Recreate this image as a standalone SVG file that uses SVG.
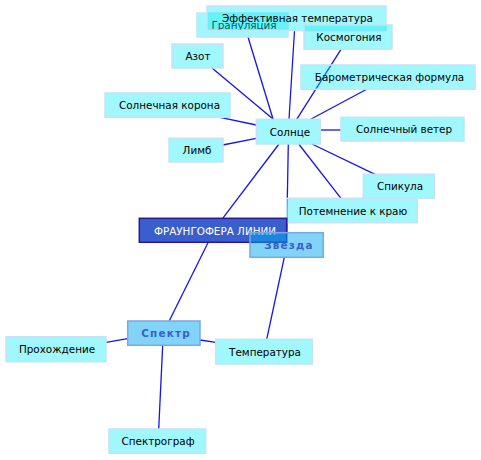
<svg xmlns="http://www.w3.org/2000/svg" width="481" height="460" viewBox="0 0 481 460">
<style>
.e{stroke:#1414f0;stroke-width:1.3;fill:none}
.n rect{fill:#00ecf8;fill-opacity:0.37;stroke:#c4e2f8;stroke-width:1.5}
.n text{font-family:"DejaVu Sans",sans-serif;font-size:10.4px;fill:#000;text-anchor:middle}
.s rect{fill:#04a9f1;fill-opacity:0.5;stroke:#7aa8e0;stroke-width:1.5}
.s text{font-family:"DejaVu Sans",sans-serif;font-size:10.4px;font-weight:bold;letter-spacing:1.2px;fill:#3a5fcd;text-anchor:middle}
.m rect{fill:#3a5fcd;stroke:#2a169c;stroke-width:1.5}
.m text{font-family:"DejaVu Sans",sans-serif;font-size:10.4px;fill:#fff;text-anchor:middle}
</style>
<rect width="481" height="460" fill="#fff"/>
<g id="connectors">
<line class="e" x1="248" y1="37" x2="273" y2="119"/>
<line class="e" x1="294.5" y1="31" x2="289" y2="119"/>
<line class="e" x1="341" y1="49.3" x2="296.7" y2="119.3"/>
<line class="e" x1="211.7" y1="67.7" x2="273.3" y2="119.3"/>
<line class="e" x1="366.7" y1="89.3" x2="310.7" y2="119.3"/>
<line class="e" x1="220" y1="117.3" x2="256.3" y2="125"/>
<line class="e" x1="320.3" y1="130" x2="341" y2="130"/>
<line class="e" x1="222.7" y1="145" x2="256.3" y2="138.3"/>
<line class="e" x1="312" y1="144" x2="375" y2="174.3"/>
<line class="e" x1="298.7" y1="144" x2="341" y2="198.3"/>
<line class="e" x1="288.3" y1="144" x2="286.7" y2="233"/>
<line class="e" x1="279" y1="144" x2="222.7" y2="218.3"/>
<line class="e" x1="208" y1="242.7" x2="169.3" y2="320.7"/>
<line class="e" x1="284.3" y1="257.3" x2="266.7" y2="339.3"/>
<line class="e" x1="106" y1="342.3" x2="127.7" y2="338.7"/>
<line class="e" x1="200" y1="340" x2="215.7" y2="342.3"/>
<line class="e" x1="162.7" y1="345.3" x2="158.7" y2="429"/>
</g>
<g id="n-granulyatsiya" class="n"><rect x="197" y="13" width="91" height="24"/><text x="244" y="28.5">Грануляция</text></g>
<g id="n-effektivnaya" class="n"><rect x="207" y="6" width="179" height="24.5"/><text x="297.5" y="22">Эффективная температура</text></g>
<g id="n-kosmogoniya" class="n"><rect x="304" y="25" width="88" height="24.3"/><text x="349" y="41">Космогония</text></g>
<g id="n-azot" class="n"><rect x="172" y="44" width="51" height="24"/><text x="198" y="60">Азот</text></g>
<g id="n-barometr" class="n"><rect x="301" y="65" width="174" height="24.3"/><text x="389.5" y="81">Барометрическая формула</text></g>
<g id="n-korona" class="n"><rect x="105" y="93" width="125" height="24.3"/><text x="169.5" y="109">Солнечная корона</text></g>
<g id="n-solntse" class="n"><rect x="256.3" y="119.3" width="64" height="24.7"/><text x="290" y="135.5">Солнце</text></g>
<g id="n-veter" class="n"><rect x="341" y="117.3" width="123" height="23.7"/><text x="404" y="133">Солнечный ветер</text></g>
<g id="n-limb" class="n"><rect x="169" y="138.3" width="54" height="23.7"/><text x="197" y="154">Лимб</text></g>
<g id="n-spikula" class="n"><rect x="363.3" y="174.3" width="71" height="24"/><text x="400" y="190">Спикула</text></g>
<g id="n-potemnenie" class="n"><rect x="286.7" y="198.3" width="130.6" height="24.4"/><text x="353" y="214.5">Потемнение к краю</text></g>
<g id="n-fraunhofer" class="m"><rect x="139.3" y="218.3" width="147.4" height="24"/><text x="215" y="234.5">ФРАУНГОФЕРА ЛИНИИ</text></g>
<g id="n-zvezda" class="s"><rect x="250" y="232.7" width="73.3" height="24.6"/><text x="289" y="249">Звезда</text></g>
<g id="n-spektr" class="s"><rect x="127.7" y="321" width="72.3" height="24.3"/><text x="166" y="337">Спектр</text></g>
<g id="n-prohozhdenie" class="n"><rect x="6" y="336.7" width="100" height="25"/><text x="57" y="353">Прохождение</text></g>
<g id="n-temperatura" class="n"><rect x="215.7" y="339.3" width="96.6" height="24.7"/><text x="265" y="355.5">Температура</text></g>
<g id="n-spektrograf" class="n"><rect x="109" y="429" width="96.7" height="24.3"/><text x="158" y="445">Спектрограф</text></g>
</svg>
